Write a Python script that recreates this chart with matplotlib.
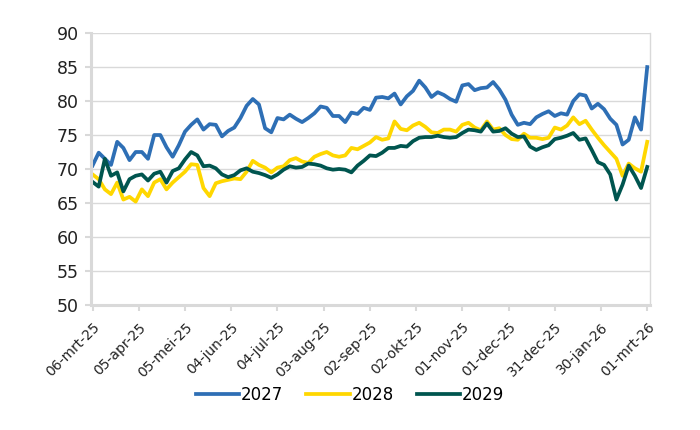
import matplotlib
matplotlib.use("Agg")
import matplotlib.pyplot as plt
import pandas as pd

# one sample every 4 days
dates = pd.date_range("2025-03-06", "2026-03-01", freq="4D")

s2027 = [70.5, 72.4, 71.5, 70.6, 74.0, 73.1, 71.3, 72.5, 72.5, 71.5,
         75.0, 75.0, 73.2, 71.8, 73.5, 75.5, 76.5, 77.3, 75.8, 76.6,
         76.5, 74.8, 75.6, 76.1, 77.5, 79.3, 80.3, 79.5, 76.0, 75.4,
         77.5, 77.3, 78.0, 77.4, 76.9, 77.5, 78.2, 79.2, 79.0, 77.8,
         77.8, 76.9, 78.3, 78.1, 79.0, 78.7, 80.5, 80.6, 80.4, 81.1,
         79.5, 80.7, 81.5, 83.0, 82.0, 80.6, 81.3, 80.9, 80.3, 79.9,
         82.3, 82.5, 81.6, 81.9, 82.0, 82.8, 81.7, 80.2, 78.0, 76.5,
         76.8, 76.6, 77.6, 78.1, 78.5, 77.8, 78.2, 78.0, 80.0, 81.0,
         80.8, 78.9, 79.6, 78.8, 77.4, 76.5, 73.6, 74.3, 77.6, 75.8,
         85.0]

s2028 = [69.2, 68.5, 67.0, 66.3, 68.0, 65.5, 65.9, 65.2, 67.0, 66.0,
         68.0, 68.5, 67.0, 68.0, 68.8, 69.6, 70.7, 70.6, 67.2, 66.0,
         67.9, 68.2, 68.4, 68.6, 68.5, 69.6, 71.2, 70.6, 70.2, 69.5,
         70.2, 70.4, 71.3, 71.6, 71.1, 70.9, 71.8, 72.2, 72.5, 72.0,
         71.8, 72.0, 73.1, 72.9, 73.4, 73.9, 74.7, 74.3, 74.5, 77.0,
         75.9, 75.7, 76.4, 76.8, 76.2, 75.4, 75.3, 75.8, 75.8, 75.5,
         76.5, 76.8, 76.1, 75.7, 77.0, 75.8, 76.0, 75.0, 74.4, 74.3,
         75.2, 74.6, 74.6, 74.4, 74.6, 76.1, 75.8, 76.4, 77.6, 76.6,
         77.1, 75.8, 74.6, 73.5, 72.5, 71.5, 69.0, 70.8, 70.1, 69.6,
         74.0]

s2029 = [68.1, 67.4, 71.5, 69.0, 69.5, 66.7, 68.5, 69.0, 69.2, 68.3,
         69.3, 69.6, 68.0, 69.7, 70.1, 71.4, 72.5, 72.0, 70.4, 70.5,
         70.1, 69.2, 68.8, 69.1, 69.8, 70.1, 69.6, 69.4, 69.1, 68.7,
         69.2, 69.9, 70.4, 70.2, 70.3, 70.8, 70.7, 70.5, 70.1, 69.9,
         70.0, 69.9, 69.5, 70.5, 71.2, 72.0, 71.9, 72.4, 73.1, 73.1,
         73.4, 73.3, 74.1, 74.6, 74.7, 74.7, 74.9, 74.7, 74.6, 74.7,
         75.3, 75.8, 75.7, 75.5, 76.7, 75.5, 75.6, 76.0, 75.2, 74.7,
         74.8, 73.3, 72.8, 73.2, 73.5, 74.4, 74.6, 74.9, 75.3, 74.3,
         74.5, 72.8, 71.0, 70.6, 69.2, 65.5, 67.7, 70.5, 69.0, 67.2,
         70.3]

tick_dates = pd.date_range("2025-03-06", periods=13, freq="30D")
tick_labels = ["06-mrt-25", "05-apr-25", "05-mei-25", "04-jun-25", "04-jul-25",
               "03-aug-25", "02-sep-25", "02-okt-25", "01-nov-25", "01-dec-25",
               "31-dec-25", "30-jan-26", "01-mrt-26"]

series = {"2027": s2027, "2028": s2028, "2029": s2029}
colors = {"2027": "#2E6FB5", "2028": "#FFD700", "2029": "#00554F"}

plt.rcParams['font.family'] = ['DejaVu Sans']

fig = plt.figure(figsize=(7, 4.3), dpi=100)
ax = fig.add_axes([0.13, 0.291, 0.799, 0.632])

for name, vals in series.items():
    ax.plot(dates, vals, color=colors[name], lw=2.7, label=name)

ax.set_ylim(50, 90)
ax.set_yticks(range(50, 91, 5))
ax.set_xlim(pd.Timestamp("2025-03-05"), pd.Timestamp("2026-03-03"))
ax.set_xticks(tick_dates)
ax.set_xticklabels(tick_labels, rotation=45, ha="right", rotation_mode="anchor")

ax.grid(axis="y", color="#d9d9d9", lw=1)
ax.set_axisbelow(True)
for side in ["left", "bottom", "right"]:
    ax.spines[side].set_color("#d9d9d9")
    ax.spines[side].set_linewidth(2.2)
ax.spines["top"].set_visible(False)
ax.spines["right"].set_linewidth(1)
ax.tick_params(axis="both", colors="#d9d9d9", length=4, width=1.5,
               labelcolor="#222222")
ax.tick_params(axis="y", labelsize=12.5, pad=5)
ax.tick_params(axis="x", labelsize=10, pad=7)

fig.legend(loc="center", bbox_to_anchor=(0.5, 0.081), ncol=3, frameon=False,
           fontsize=12, handlelength=2.6, handletextpad=0.1, columnspacing=1.4)

fig.savefig("out.png", dpi=100)
